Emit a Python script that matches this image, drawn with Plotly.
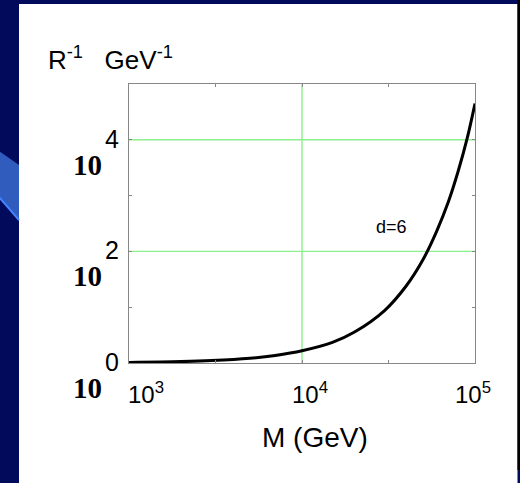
import math
import plotly.graph_objects as go

# Mass scale M (GeV) and inverse radius R^-1 for d = 6
mass_gev = [1000, 2000, 3000, 5000, 7000, 10000, 15000, 20000, 30000,
            40000, 50000, 60000, 70000, 80000, 90000, 100000]
inv_radius = [0.01, 0.025, 0.043, 0.085, 0.136, 0.22, 0.37, 0.55, 0.94,
              1.38, 1.85, 2.36, 2.88, 3.44, 4.02, 4.65]

x_tick_vals = [1e3, 1e4, 1e5]
x_tick_text = ["10<sup>3</sup>", "10<sup>4</sup>", "10<sup>5</sup>"]
y_tick_vals = [0, 2, 4]
y_tick_text = ["0", "2", "4"]
curve_label = "d=6"

W, H = 520, 483
L, R, T, B = 129, 475, 84, 363
PW, PH = R - L, B - T


def px(x):
    return (x - L) / PW


def py(y):
    return (B - y) / PH


NAVY = "rgb(2,10,92)"
GRID = "rgb(140,240,140)"
FRAME = "rgb(135,135,135)"
SANS = "Liberation Sans"

fig = go.Figure()
fig.add_trace(go.Scatter(
    x=mass_gev, y=inv_radius, mode="lines",
    line=dict(color="black", width=3, shape="spline"),
    hoverinfo="skip", showlegend=False,
))

shapes = [
    # white slide panel
    dict(type="rect", xref="paper", yref="paper", layer="below",
         x0=px(19), x1=px(517.5), y0=py(4), y1=py(483),
         fillcolor="white", line=dict(width=0)),
    # dark strip on the right edge
    dict(type="rect", xref="paper", yref="paper", layer="below",
         x0=px(517.5), x1=px(521), y0=py(0), y1=py(470),
         fillcolor="black", line=dict(width=0)),
    # blue swoosh peeking out on the left
    dict(type="path", xref="paper", yref="paper", layer="below",
         path=f"M {px(-1)},{py(151)} L {px(19)},{py(165)} L {px(19)},{py(221)} L {px(-1)},{py(197)} Z",
         fillcolor="rgb(48,92,190)", line=dict(width=0)),
    dict(type="line", xref="paper", yref="paper", layer="below",
         x0=px(-1), y0=py(197), x1=px(19), y1=py(220),
         line=dict(color="rgb(70,130,255)", width=2)),
    # vertical grid line at 10^4
    dict(type="line", xref="x", yref="paper", layer="below",
         x0=1e4, x1=1e4, y0=0, y1=1, line=dict(color=GRID, width=1.4)),
]
for v in [2, 4]:
    shapes.append(dict(type="line", xref="paper", yref="y", layer="below",
                       x0=0, x1=1, y0=v, y1=v,
                       line=dict(color=GRID, width=1.4)))

annotations = [
    dict(text="R<sup>-1</sup>&nbsp;&nbsp; GeV<sup>-1</sup>", xref="paper", yref="paper",
         x=px(46), y=py(58), xanchor="left", yanchor="middle", showarrow=False,
         font=dict(family=SANS, size=26, color="black")),
    dict(text=curve_label, xref="x", yref="y", x=4.515, y=2.44,
         showarrow=False, xanchor="center", yanchor="middle",
         font=dict(family=SANS, size=18, color="black")),
    dict(text="M (GeV)", xref="paper", yref="paper", x=px(315), y=py(437),
         showarrow=False, xanchor="center", yanchor="middle",
         font=dict(family=SANS, size=28, color="black")),
]
# bottom tick labels; the end labels sit inside the frame edges
x_label_shift = [17, 8, -2]
for v, t, s in zip(x_tick_vals, x_tick_text, x_label_shift):
    annotations.append(dict(
        text=t, xref="x", yref="paper", x=math.log10(v), y=py(393),
        xshift=s, showarrow=False, xanchor="center", yanchor="middle",
        font=dict(family=SANS, size=24, color="black")))
# left tick labels with their bold "10" bases
for v, t in zip(y_tick_vals, y_tick_text):
    annotations.append(dict(
        text=t, xref="paper", yref="y", x=px(121), y=v, yshift=1,
        showarrow=False, xanchor="right", yanchor="middle",
        font=dict(family=SANS, size=25, color="black")))
    annotations.append(dict(
        text="<b>10</b>", xref="paper", yref="y", x=px(87), y=v,
        yshift=-25, showarrow=False, xanchor="center", yanchor="middle",
        font=dict(family="Liberation Serif", size=29, color="black")))

fig.update_layout(
    width=W, height=H,
    margin=dict(l=L, r=W - R, t=T, b=H - B),
    paper_bgcolor=NAVY, plot_bgcolor="white",
    shapes=shapes, annotations=annotations,
    xaxis=dict(
        type="log", range=[3, 5],
        tickvals=[1e3, 10 ** 3.5, 1e4, 10 ** 4.5, 1e5],
        showticklabels=False,
        ticks="inside", ticklen=3, tickcolor=FRAME,
        showgrid=False,
        showline=True, linecolor=FRAME, linewidth=1, mirror="ticks",
        zeroline=False,
    ),
    yaxis=dict(
        range=[0, 5],
        tickvals=[0, 1, 2, 3, 4, 5],
        showticklabels=False,
        ticks="inside", ticklen=3, tickcolor=FRAME,
        showgrid=False,
        showline=True, linecolor=FRAME, linewidth=1, mirror="ticks",
        zeroline=False,
    ),
)

fig.write_html("out.html")
